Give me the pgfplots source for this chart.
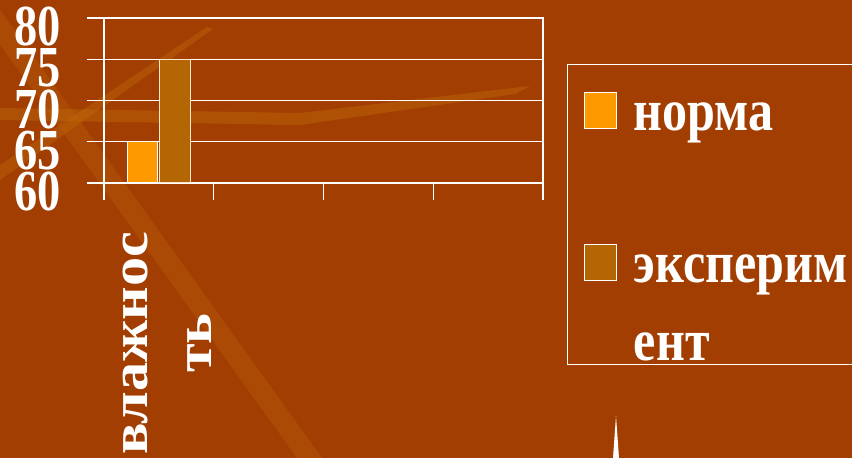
\documentclass[border=0pt]{standalone}
\usepackage{pgfplots}
\pgfplotsset{compat=1.18}
\usepackage{fontspec}
\setmainfont{Liberation Serif}
\newfontfamily\numfont[FakeStretch=0.8]{Liberation Serif}
\newfontfamily\legfont[FakeStretch=0.85]{Liberation Serif}
\newfontfamily\catfont[FakeStretch=1.12]{Liberation Serif}
\definecolor{bg}{RGB}{163,62,2}
\definecolor{streak}{RGB}{190,105,10}
\definecolor{norma}{RGB}{255,153,0}
\definecolor{exper}{RGB}{180,102,4}
\pgfplotsset{
  legimgA/.style={legend image code/.code={\draw[##1, draw=white, line width=1.2bp] (0bp,2bp) rectangle (32bp,38bp);}},
  legimgB/.style={legend image code/.code={\draw[##1, draw=white, line width=1.2bp] (0bp,80bp) rectangle (32bp,116bp);}},
}
\begin{document}
\begin{tikzpicture}[x=1bp,y=1bp]
\clip (0,0) rectangle (852,458);
\fill[bg] (0,0) rectangle (852,458);
% decorative background streaks (y measured from the bottom)
\fill[streak,opacity=0.45] (0,350) -- (300,345) -- (530,372) -- (515,364) -- (300,333) -- (0,338) -- cycle;
\fill[streak,opacity=0.4] (0,293) -- (207,431) -- (213,429) -- (0,278) -- cycle;
\fill[streak,opacity=0.3] (-32,458) -- (-7,458) -- (322,0) -- (297,0) -- cycle;
\fill[white] (613,0) -- (616,42) -- (619,0) -- cycle;
\begin{axis}[
  at={(104bp,275bp)}, anchor=south west, scale only axis,
  width=439bp, height=165bp,
  xmin=0, xmax=4, ymin=60, ymax=80,
  axis line style={white, line width=1.3bp},
  xtick={0,1,2,3,4}, xticklabels={},
  ytick={60,65,...,80},
  tick align=outside, major tick length=17bp,
  tick style={white, line width=1.3bp},
  xtick pos=bottom, ytick pos=left,
  ymajorgrids, grid style={white, line width=1.3bp},
  /pgf/number format/assume math mode=true,
  yticklabel style={font=\numfont\bfseries\fontsize{58bp}{58bp}\selectfont, text=white, yshift=-9bp, xshift=-23bp},
  extra x ticks={0.5},
  extra x tick labels={влажнос\\ть},
  extra x tick style={major tick length=0pt, grid=none, xticklabel shift=45bp,
     xticklabel style={xshift=8bp, rotate=90, anchor=east, align=center,
       font=\catfont\bfseries\fontsize{52bp}{64bp}\selectfont, text=white}},
  legend style={at={(1.0547,0.7212)}, anchor=north west, draw=white, line width=1.3bp,
     fill=none, text=white, inner xsep=16bp, inner ysep=3bp,
     column sep=17bp, row sep=110bp,
     font=\legfont\bfseries\fontsize{59bp}{78bp}\selectfont,
     nodes={inner sep=0pt}, cells={anchor=base west}},
]
\addplot[ybar, bar width=0.28, bar shift=0pt, fill=norma, draw=white, line width=1bp, legimgA] coordinates {(0.35,65)};
\addlegendentry{\rule{0pt}{63bp}норма}
\addplot[ybar, bar width=0.28, bar shift=0pt, fill=exper, draw=white!80!orange, line width=1bp, legimgB] coordinates {(0.65,75)};
\addlegendentry{\vbox{\baselineskip=78bp\hbox{\rule{0pt}{40bp}эксперим}\hbox{ент}}}
\end{axis}
\end{tikzpicture}
\end{document}
